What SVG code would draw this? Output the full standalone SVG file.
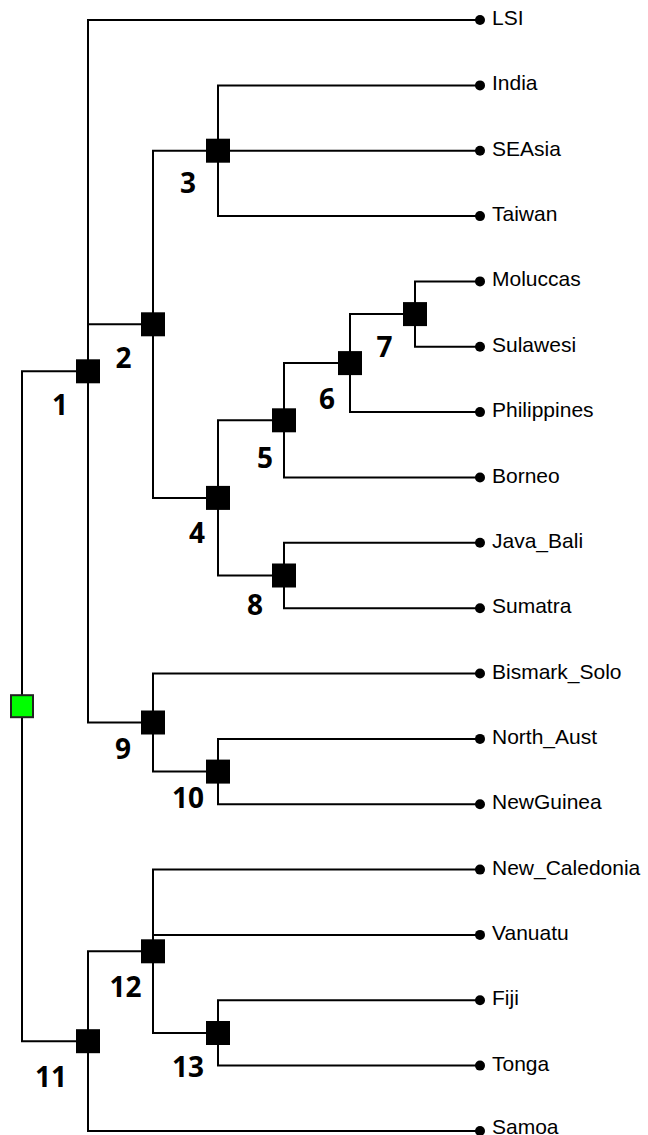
<svg xmlns="http://www.w3.org/2000/svg" width="648" height="1135" viewBox="0 0 648 1135">
<style>
.e{fill:none;stroke:#000;stroke-width:2}
.n{fill:#000}
.r{fill:#00ff00;stroke:#222;stroke-width:2}
.d{fill:#000}
.t{font-family:"Liberation Sans",Arial,sans-serif;font-size:21px;fill:#000}
.l{font-family:"Open Sans","Liberation Sans",sans-serif;font-size:28px;font-weight:bold;fill:#000;text-anchor:middle}
</style>
<rect width="648" height="1135" fill="#fff"/>
<g id="connectors">
<path class="e" d="M22,706.2 V371.3 H88"/>
<path class="e" d="M22,706.2 V1041.2 H88"/>
<path class="e" d="M88,371.3 V20 H480"/>
<path class="e" d="M88,371.3 V324.3 H153"/>
<path class="e" d="M88,371.3 V722.5 H153"/>
<path class="e" d="M153,324.3 V150.7 H218"/>
<path class="e" d="M153,324.3 V497.9 H218"/>
<path class="e" d="M218,150.7 V85.4 H480"/>
<path class="e" d="M218,150.7 H480"/>
<path class="e" d="M218,150.7 V216.1 H480"/>
<path class="e" d="M218,497.9 V420.3 H284"/>
<path class="e" d="M218,497.9 V575.5 H284"/>
<path class="e" d="M284,420.3 V363.1 H350"/>
<path class="e" d="M284,420.3 V477.5 H480"/>
<path class="e" d="M350,363.1 V314.1 H415"/>
<path class="e" d="M350,363.1 V412.1 H480"/>
<path class="e" d="M415,314.1 V281.4 H480"/>
<path class="e" d="M415,314.1 V346.8 H480"/>
<path class="e" d="M284,575.5 V542.8 H480"/>
<path class="e" d="M284,575.5 V608.2 H480"/>
<path class="e" d="M153,722.5 V673.5 H480"/>
<path class="e" d="M153,722.5 V771.6 H218"/>
<path class="e" d="M218,771.6 V738.9 H480"/>
<path class="e" d="M218,771.6 V804.2 H480"/>
<path class="e" d="M88,1041.2 V951.3 H153"/>
<path class="e" d="M88,1041.2 V1131 H480"/>
<path class="e" d="M153,951.3 V869.6 H480"/>
<path class="e" d="M153,951.3 V934.9 H480"/>
<path class="e" d="M153,951.3 V1033 H218"/>
<path class="e" d="M218,1033 V1000.3 H480"/>
<path class="e" d="M218,1033 V1065.6 H480"/>
</g>
<g id="root"><rect class="r" x="11" y="695.2" width="22" height="22"/></g>
<g id="n1"><rect class="n" x="76" y="359.3" width="24" height="24"/><text class="l" x="60" y="415">1</text></g>
<g id="n2"><rect class="n" x="141" y="312.3" width="24" height="24"/><text class="l" x="123.5" y="368">2</text></g>
<g id="n3"><rect class="n" x="206" y="138.7" width="24" height="24"/><text class="l" x="188" y="193">3</text></g>
<g id="n4"><rect class="n" x="206" y="485.9" width="24" height="24"/><text class="l" x="197" y="543">4</text></g>
<g id="n5"><rect class="n" x="272" y="408.3" width="24" height="24"/><text class="l" x="265" y="468">5</text></g>
<g id="n6"><rect class="n" x="338" y="351.1" width="24" height="24"/><text class="l" x="327" y="409">6</text></g>
<g id="n7"><rect class="n" x="403" y="302.1" width="24" height="24"/><text class="l" x="384.5" y="357">7</text></g>
<g id="n8"><rect class="n" x="272" y="563.5" width="24" height="24"/><text class="l" x="255" y="615">8</text></g>
<g id="n9"><rect class="n" x="141" y="710.5" width="24" height="24"/><text class="l" x="123" y="759">9</text></g>
<g id="n10"><rect class="n" x="206" y="759.6" width="24" height="24"/><text class="l" x="188" y="808">10</text></g>
<g id="n11"><rect class="n" x="76" y="1029.2" width="24" height="24"/><text class="l" x="51" y="1087">11</text></g>
<g id="n12"><rect class="n" x="141" y="939.3" width="24" height="24"/><text class="l" x="125.5" y="997">12</text></g>
<g id="n13"><rect class="n" x="206" y="1021" width="24" height="24"/><text class="l" x="188" y="1077">13</text></g>
<g id="leaf-LSI"><circle class="d" cx="480" cy="20" r="5"/><text class="t" x="492" y="25">LSI</text></g>
<g id="leaf-India"><circle class="d" cx="480" cy="85.4" r="5"/><text class="t" x="492" y="90.4">India</text></g>
<g id="leaf-SEAsia"><circle class="d" cx="480" cy="150.7" r="5"/><text class="t" x="492" y="155.7">SEAsia</text></g>
<g id="leaf-Taiwan"><circle class="d" cx="480" cy="216.1" r="5"/><text class="t" x="492" y="221.1">Taiwan</text></g>
<g id="leaf-Moluccas"><circle class="d" cx="480" cy="281.4" r="5"/><text class="t" x="492" y="286.4">Moluccas</text></g>
<g id="leaf-Sulawesi"><circle class="d" cx="480" cy="346.8" r="5"/><text class="t" x="492" y="351.8">Sulawesi</text></g>
<g id="leaf-Philippines"><circle class="d" cx="480" cy="412.1" r="5"/><text class="t" x="492" y="417.1">Philippines</text></g>
<g id="leaf-Borneo"><circle class="d" cx="480" cy="477.5" r="5"/><text class="t" x="492" y="482.5">Borneo</text></g>
<g id="leaf-Java_Bali"><circle class="d" cx="480" cy="542.8" r="5"/><text class="t" x="492" y="547.8">Java_Bali</text></g>
<g id="leaf-Sumatra"><circle class="d" cx="480" cy="608.2" r="5"/><text class="t" x="492" y="613.2">Sumatra</text></g>
<g id="leaf-Bismark_Solo"><circle class="d" cx="480" cy="673.5" r="5"/><text class="t" x="492" y="678.5">Bismark_Solo</text></g>
<g id="leaf-North_Aust"><circle class="d" cx="480" cy="738.9" r="5"/><text class="t" x="492" y="743.9">North_Aust</text></g>
<g id="leaf-NewGuinea"><circle class="d" cx="480" cy="804.2" r="5"/><text class="t" x="492" y="809.2">NewGuinea</text></g>
<g id="leaf-New_Caledonia"><circle class="d" cx="480" cy="869.6" r="5"/><text class="t" x="492" y="874.6">New_Caledonia</text></g>
<g id="leaf-Vanuatu"><circle class="d" cx="480" cy="934.9" r="5"/><text class="t" x="492" y="939.9">Vanuatu</text></g>
<g id="leaf-Fiji"><circle class="d" cx="480" cy="1000.3" r="5"/><text class="t" x="492" y="1005.3">Fiji</text></g>
<g id="leaf-Tonga"><circle class="d" cx="480" cy="1065.6" r="5"/><text class="t" x="492" y="1070.6">Tonga</text></g>
<g id="leaf-Samoa"><circle class="d" cx="480" cy="1131" r="5"/><text class="t" x="492" y="1134">Samoa</text></g>
</svg>
